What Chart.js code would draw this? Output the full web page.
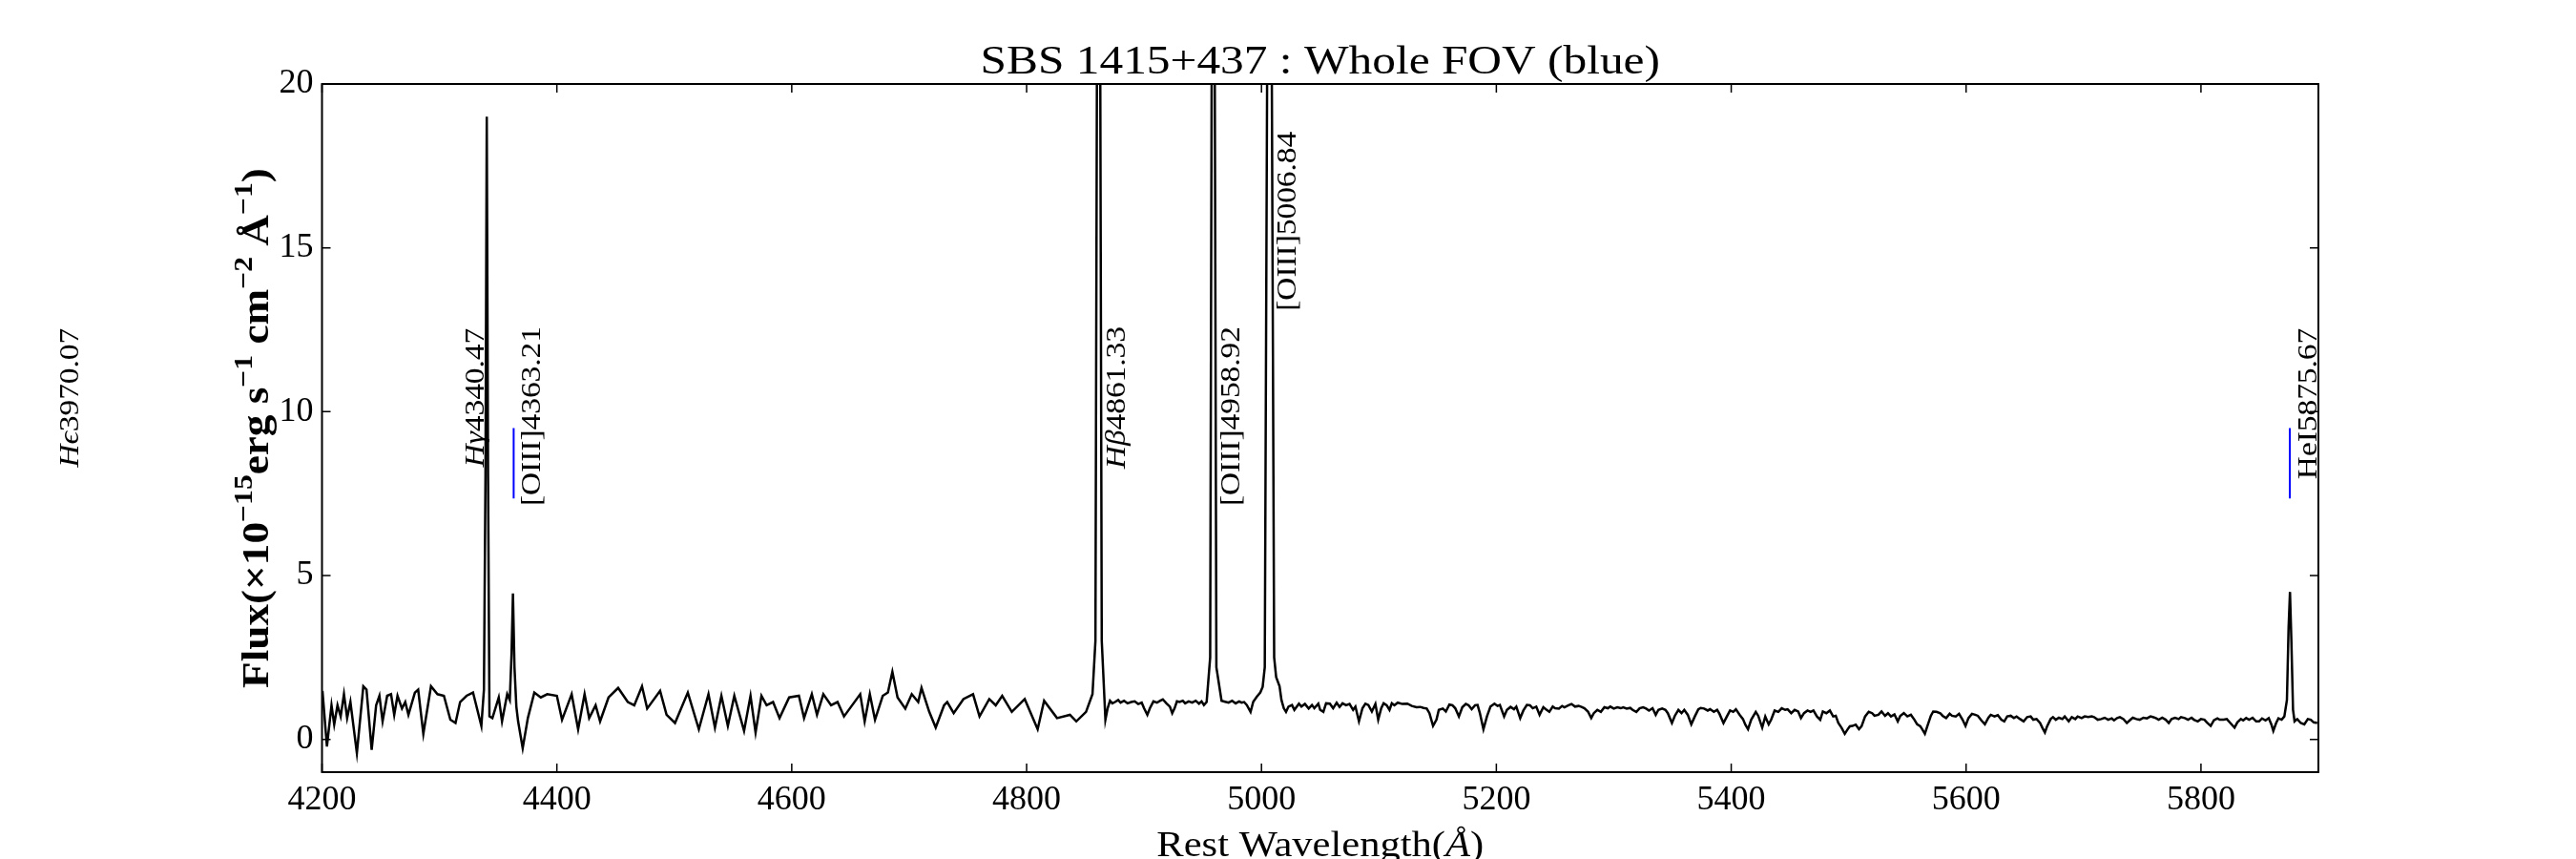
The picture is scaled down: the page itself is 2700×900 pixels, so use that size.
<!DOCTYPE html>
<html lang="en">
<head>
<meta charset="UTF-8">
<title>SBS 1415+437 : Whole FOV (blue)</title>
<script src="https://cdn.jsdelivr.net/npm/chart.js@4.4.1/dist/chart.umd.min.js"></script>
<style>
    body { margin: 0; background: #ffffff; }
    #wrap { width: 2700px; height: 900px; }
</style>
</head>
<body>
<div id="wrap"><canvas id="spec" width="2700" height="900"></canvas></div>
<script>
    // rest wavelength (A) and flux (1e-15 erg/s/cm2/A)
    // blue half: 4200 - 5050
    var waveA = [
        4200.4, 4204.2, 4208.1, 4210.4, 4213.2, 4215.9, 4218.7, 4221.4, 4224.2, 4229.7,
        4235.2, 4237.9, 4242.3, 4246.1, 4248.9, 4251.6, 4255.5, 4258.8, 4261.5, 4264.3,
        4268.1, 4270.9, 4273.6, 4279.1, 4281.9, 4286.3, 4292.8, 4298.3, 4303.8, 4309.3,
        4313.7, 4317.6, 4323.1, 4328.6, 4335.7, 4337.9, 4339.2, 4340.3, 4341.4, 4342.6,
        4345.1, 4350.5, 4353.3, 4357.7, 4359.9, 4361.4, 4362.6, 4363.9, 4365.5, 4367.0,
        4370.9, 4375.3, 4380.8, 4386.3, 4391.8, 4400.0, 4404.4, 4412.6, 4418.1, 4423.6,
        4427.5, 4433.0, 4436.8, 4444.0, 4452.2, 4460.4, 4465.9, 4472.5, 4476.9, 4487.9,
        4493.4, 4500.6, 4511.5, 4520.9, 4529.1, 4534.6, 4540.1, 4545.6, 4551.1, 4559.4,
        4564.9, 4569.2, 4574.2, 4578.6, 4584.1, 4589.6, 4597.8, 4606.1, 4610.5, 4617.1,
        4621.5, 4626.9, 4633.5, 4639.0, 4644.5, 4658.3, 4662.1, 4666.5, 4670.9, 4677.5,
        4681.9, 4685.7, 4690.1, 4696.7, 4702.2, 4707.7, 4710.5, 4717.1, 4722.6, 4729.7,
        4732.4, 4737.9, 4746.2, 4754.4, 4759.9, 4768.2, 4773.7, 4779.2, 4787.4, 4798.4,
        4809.4, 4814.9, 4825.9, 4836.9, 4842.3, 4850.6, 4856.1, 4858.6, 4860.0, 4861.3,
        4862.6, 4864.0, 4867.1, 4869.0, 4871.0, 4873.0, 4875.3, 4878.0, 4880.0, 4883.0,
        4886.0, 4889.1, 4892.0, 4895.0, 4898.0, 4900.0, 4902.8, 4905.0, 4908.0, 4911.0,
        4913.8, 4916.0, 4919.0, 4922.0, 4924.0, 4926.0, 4928.0, 4930.3, 4933.0, 4935.0,
        4938.0, 4941.0, 4944.0, 4946.8, 4949.0, 4951.0, 4953.3, 4956.3, 4957.7, 4958.9,
        4960.1, 4961.6, 4966.0, 4969.0, 4972.0, 4975.0, 4978.0, 4981.0, 4983.0, 4985.2,
        4987.5, 4990.7, 4993.0, 4996.0, 4999.0, 5001.0, 5002.8, 5005.0, 5006.8, 5008.6,
        5010.8, 5012.5, 5015.4, 5017.0, 5019.0, 5020.9, 5023.0, 5026.0, 5028.0, 5031.9,
        5034.0, 5037.0, 5040.2, 5043.0, 5045.0, 5048.4
    ];
    var fluxA = [
        1.48, -0.22, 1.04, 0.46, 1.04, 0.70, 1.38, 0.65, 1.14, -0.42,
        1.62, 1.52, -0.32, 1.04, 1.33, 0.55, 1.33, 1.38, 0.75, 1.33,
        0.94, 1.14, 0.75, 1.43, 1.52, 0.17, 1.62, 1.38, 1.33, 0.60,
        0.50, 1.14, 1.33, 1.43, 0.41, 1.52, 8.0, 19.0, 8.0, 0.70,
        0.65, 1.28, 0.55, 1.38, 1.20, 2.6, 4.45, 2.2, 1.0, 0.55,
        -0.27, 0.65, 1.43, 1.28, 1.38, 1.33, 0.60, 1.38, 0.31, 1.38,
        0.65, 1.04, 0.55, 1.28, 1.57, 1.14, 1.04, 1.62, 0.94, 1.48,
        0.75, 0.50, 1.43, 0.31, 1.38, 0.36, 1.33, 0.41, 1.33, 0.26,
        1.33, 0.21, 1.33, 1.04, 1.14, 0.65, 1.28, 1.33, 0.65, 1.38,
        0.75, 1.38, 1.04, 1.14, 0.70, 1.38, 0.55, 1.38, 0.60, 1.33,
        1.43, 2.06, 1.28, 0.94, 1.38, 1.14, 1.57, 0.84, 0.36, 1.04,
        1.14, 0.80, 1.23, 1.38, 0.70, 1.23, 1.04, 1.33, 0.84, 1.23,
        0.31, 1.18, 0.65, 0.75, 0.55, 0.84, 1.38, 3.0, 22, 40,
        22, 3.0, 0.60, 0.95, 1.18, 1.10, 1.14, 1.20, 1.12, 1.18,
        1.10, 1.14, 1.16, 1.08, 1.12, 0.95, 0.75, 0.95, 1.16, 1.12,
        1.18, 1.22, 1.10, 1.00, 0.80, 0.95, 1.16, 1.14, 1.18, 1.10,
        1.16, 1.12, 1.18, 1.09, 1.16, 1.05, 1.14, 2.5, 22, 40,
        22, 2.2, 1.18, 1.15, 1.12, 1.18, 1.10, 1.16, 1.12, 1.14,
        1.05, 0.84, 1.15, 1.30, 1.43, 1.60, 2.2, 22, 40, 22,
        2.5, 1.9, 1.62, 1.2, 0.95, 0.84, 1.00, 1.05, 0.90, 1.09,
        1.00, 1.08, 0.94, 1.05, 0.95, 1.09
    ];
    // red half: 5050 - 5900
    var waveB = [
        5050.0, 5052.7, 5055.0, 5058.2, 5061.0, 5064.0, 5066.5, 5069.0, 5072.0, 5075.0,
        5078.0, 5080.0, 5083.0, 5086.0, 5088.5, 5091.0, 5094.0, 5097.0, 5099.4, 5102.0,
        5104.0, 5106.6, 5109.0, 5111.0, 5113.2, 5116.0, 5120.0, 5124.2, 5128.0, 5132.0,
        5135.2, 5138.0, 5140.7, 5143.0, 5146.1, 5149.0, 5151.0, 5154.4, 5157.0, 5160.0,
        5162.6, 5165.0, 5168.1, 5171.0, 5174.0, 5176.4, 5179.0, 5181.9, 5184.0, 5186.0,
        5189.0, 5192.0, 5195.0, 5198.4, 5201.0, 5203.0, 5206.6, 5209.0, 5212.1, 5215.0,
        5217.0, 5220.3, 5223.0, 5226.0, 5228.6, 5231.0, 5234.0, 5236.8, 5240.0, 5242.0,
        5245.1, 5248.0, 5250.0, 5253.3, 5256.0, 5258.0, 5261.5, 5264.0, 5267.0, 5270.0,
        5272.5, 5275.0, 5278.0, 5280.8, 5283.0, 5286.0, 5289.0, 5292.0, 5295.0, 5297.0,
        5300.0, 5303.0, 5306.0, 5308.0, 5311.0, 5314.0, 5316.0, 5319.2, 5322.0, 5325.0,
        5327.5, 5330.0, 5333.0, 5335.7, 5338.0, 5341.2, 5344.0, 5346.0, 5349.5, 5352.0,
        5355.0, 5357.7, 5360.0, 5363.0, 5366.0, 5369.0, 5372.0, 5374.0, 5376.9, 5380.0,
        5382.0, 5385.2, 5388.0, 5390.0, 5393.4, 5396.0, 5399.0, 5401.7, 5404.0, 5407.2,
        5410.0, 5412.0, 5414.3, 5417.0, 5420.9, 5423.0, 5426.4, 5429.0, 5431.9, 5434.0,
        5437.0, 5440.1, 5443.0, 5446.0, 5448.0, 5451.1, 5454.0, 5457.0, 5459.4, 5462.0,
        5465.0, 5467.6, 5470.0, 5473.0, 5475.8, 5478.0, 5481.0, 5484.0, 5486.8, 5489.0,
        5491.2, 5494.0, 5496.7, 5499.0, 5501.0, 5503.3, 5506.0, 5508.8, 5511.0, 5514.0,
        5517.1, 5520.0, 5522.0, 5525.3, 5528.0, 5531.0, 5533.5, 5536.0, 5539.0, 5541.8,
        5544.0, 5547.0, 5550.0, 5553.0, 5556.0, 5558.3, 5561.0, 5562.8, 5564.9, 5567.0,
        5570.0, 5572.0, 5574.8, 5578.0, 5580.0, 5583.0, 5586.0, 5588.0, 5591.2, 5594.0,
        5597.0, 5599.5, 5602.0, 5605.0, 5607.7, 5610.0, 5613.0, 5616.0, 5619.0, 5621.0,
        5624.2, 5627.0, 5630.0, 5632.5, 5635.0, 5638.0, 5640.7, 5643.0, 5646.0, 5649.0,
        5652.0, 5655.0, 5657.2, 5660.0, 5663.0, 5665.0, 5667.1, 5669.0, 5672.0, 5674.0,
        5676.4, 5679.0, 5682.0, 5684.0, 5687.4, 5690.0, 5693.0, 5695.0, 5698.4, 5701.0,
        5704.0, 5707.0, 5709.0, 5712.1, 5715.0, 5718.0, 5721.0, 5724.0, 5726.0, 5728.6,
        5731.0, 5734.0, 5736.9, 5740.0, 5742.0, 5745.0, 5747.9, 5751.0, 5754.0, 5757.0,
        5759.0, 5761.6, 5764.0, 5767.0, 5770.0, 5772.6, 5775.0, 5778.0, 5781.0, 5783.0,
        5786.3, 5789.0, 5792.0, 5794.0, 5797.3, 5800.0, 5803.0, 5805.0, 5808.3, 5811.0,
        5814.0, 5816.0, 5819.3, 5822.0, 5825.0, 5828.6, 5831.0, 5834.0, 5836.0, 5838.5,
        5841.0, 5844.0, 5847.0, 5849.5, 5852.0, 5855.0, 5857.7, 5860.0, 5861.6, 5864.0,
        5866.0, 5868.7, 5871.0, 5873.2, 5874.6, 5875.8, 5877.0, 5878.4, 5879.7, 5882.0,
        5885.0, 5888.0, 5891.0, 5893.5, 5896.0, 5899.0
    ];
    var fluxB = [
        0.90, 0.84, 1.10, 1.09, 0.95, 1.12, 0.99, 1.10, 1.04, 1.08,
        0.90, 1.00, 0.55, 0.95, 1.09, 1.05, 0.85, 1.08, 0.60, 0.95,
        1.10, 1.04, 0.90, 1.10, 1.04, 1.12, 1.08, 1.09, 1.02, 0.98,
        0.99, 0.96, 0.94, 0.80, 0.41, 0.60, 0.90, 0.94, 0.85, 1.06,
        1.04, 0.95, 0.70, 0.98, 1.08, 1.04, 0.92, 1.04, 1.05, 0.80,
        0.31, 0.70, 1.00, 1.09, 1.02, 1.05, 0.70, 0.90, 0.99, 0.92,
        1.00, 0.65, 0.88, 1.05, 1.04, 0.95, 1.00, 0.75, 0.98, 0.92,
        0.84, 1.00, 0.95, 0.94, 1.02, 0.98, 1.04, 1.08, 1.00, 1.02,
        0.99, 0.95, 0.85, 0.65, 0.80, 0.90, 0.84, 0.98, 0.95, 1.00,
        0.94, 0.98, 0.95, 0.98, 0.94, 0.96, 0.90, 0.84, 0.95, 0.98,
        0.94, 0.88, 0.95, 0.75, 0.90, 0.94, 0.90, 0.80, 0.50, 0.72,
        0.90, 0.80, 0.90, 0.75, 0.46, 0.70, 0.92, 0.96, 0.94, 0.88,
        0.92, 0.84, 0.90, 0.78, 0.50, 0.68, 0.88, 0.84, 0.92, 0.75,
        0.62, 0.45, 0.31, 0.60, 0.84, 0.72, 0.36, 0.70, 0.46, 0.60,
        0.88, 0.84, 0.95, 0.90, 0.92, 0.80, 0.90, 0.85, 0.65, 0.80,
        0.88, 0.84, 0.88, 0.70, 0.60, 0.85, 0.80, 0.88, 0.70, 0.72,
        0.50, 0.35, 0.17, 0.30, 0.40, 0.41, 0.45, 0.31, 0.40, 0.70,
        0.84, 0.80, 0.72, 0.75, 0.85, 0.72, 0.80, 0.70, 0.76, 0.55,
        0.72, 0.80, 0.70, 0.75, 0.60, 0.46, 0.40, 0.30, 0.17, 0.40,
        0.72, 0.85, 0.84, 0.80, 0.72, 0.65, 0.78, 0.72, 0.70, 0.78,
        0.60, 0.41, 0.65, 0.78, 0.75, 0.72, 0.58, 0.46, 0.66, 0.75,
        0.70, 0.74, 0.60, 0.55, 0.70, 0.72, 0.65, 0.70, 0.62, 0.55,
        0.68, 0.70, 0.60, 0.62, 0.50, 0.35, 0.21, 0.40, 0.62, 0.68,
        0.60, 0.66, 0.62, 0.70, 0.55, 0.68, 0.62, 0.70, 0.65, 0.70,
        0.68, 0.70, 0.68, 0.60, 0.62, 0.66, 0.60, 0.64, 0.58, 0.65,
        0.68, 0.62, 0.50, 0.60, 0.66, 0.62, 0.60, 0.66, 0.64, 0.70,
        0.68, 0.65, 0.60, 0.66, 0.60, 0.50, 0.62, 0.66, 0.62, 0.68,
        0.65, 0.60, 0.66, 0.60, 0.55, 0.62, 0.60, 0.52, 0.41, 0.58,
        0.64, 0.60, 0.60, 0.62, 0.50, 0.36, 0.52, 0.62, 0.58, 0.65,
        0.60, 0.66, 0.55, 0.55, 0.64, 0.58, 0.65, 0.45, 0.26, 0.50,
        0.64, 0.60, 0.70, 1.2, 3.4, 4.5, 3.0, 0.9, 0.55, 0.62,
        0.50, 0.46, 0.62, 0.60, 0.52, 0.50
    ];

    var xTicks = [4200, 4400, 4600, 4800, 5000, 5200, 5400, 5600, 5800];
    var yTicks = [0, 5, 10, 15, 20];

    // identified lines
    var lineIons = ['H\u03f5', 'H\u03b3', '[OIII]', 'H\u03b2', '[OIII]', '[OIII]', 'HeI'];
    var lineWaves = [3970.07, 4340.47, 4363.21, 4861.33, 4958.92, 5006.84, 5875.67];
    var ionItalic = [true, true, false, true, false, false, false];
    var labelTop = [12.55, 12.55, 12.6, 12.6, 12.6, 18.55, 12.55];
    var labelShift = [28, -3.5, 28, 27.5, 27.5, 27.5, 28];   // px, baseline offset from the line
    var markerWaves = [4363.21, 5875.67];
    var markerRange = [7.35, 9.5];

    var serif = '"Liberation Serif", "DejaVu Serif", serif';

    // draws a run of text pieces [text, isSup, isItalic] starting at x=0 of the current frame,
    // stretched by sx along the text direction; align: 'center' | 'right' | 'left'
    function drawParts(ctx, parts, size, bold, sx, align) {
        var fonts = parts.map(function(p) {
            var s = p[1] ? size * 0.7 : size;
            return (p[2] ? 'italic ' : '') + (bold ? 'bold ' : '') + s + 'px ' + serif;
        });
        var w = 0;
        parts.forEach(function(p, i) { ctx.font = fonts[i]; w += ctx.measureText(p[0]).width; });
        ctx.save();
        ctx.scale(sx, 1);
        var cx = align === 'center' ? -w / 2 : (align === 'right' ? -w : 0);
        ctx.textAlign = 'left';
        ctx.textBaseline = 'alphabetic';
        parts.forEach(function(p, i) {
            ctx.font = fonts[i];
            ctx.fillText(p[0], cx, p[1] ? -size * 0.42 : 0);
            cx += ctx.measureText(p[0]).width;
        });
        ctx.restore();
    }

    var decor = {
        id: 'decor',
        afterDraw: function(chart) {
            var ctx = chart.ctx, a = chart.chartArea;
            var xs = chart.scales.x, ys = chart.scales.y;
            ctx.save();
            ctx.strokeStyle = '#000';
            ctx.fillStyle = '#000';

            // frame and inward ticks on all four sides
            ctx.lineWidth = 2;
            ctx.strokeRect(a.left, a.top, a.right - a.left, a.bottom - a.top);
            ctx.lineWidth = 1.5;
            ctx.beginPath();
            xTicks.forEach(function(v) {
                var px = xs.getPixelForValue(v);
                ctx.moveTo(px, a.bottom); ctx.lineTo(px, a.bottom - 9);
                ctx.moveTo(px, a.top); ctx.lineTo(px, a.top + 9);
            });
            yTicks.forEach(function(v) {
                var py = ys.getPixelForValue(v);
                ctx.moveTo(a.left, py); ctx.lineTo(a.left + 9, py);
                ctx.moveTo(a.right, py); ctx.lineTo(a.right - 9, py);
            });
            ctx.stroke();

            // blue markers
            ctx.strokeStyle = '#0000ff';
            ctx.lineWidth = 2;
            ctx.beginPath();
            markerWaves.forEach(function(w) {
                var px = xs.getPixelForValue(w);
                ctx.moveTo(px, ys.getPixelForValue(markerRange[0]));
                ctx.lineTo(px, ys.getPixelForValue(markerRange[1]));
            });
            ctx.stroke();

            // line identifications, rotated to read upwards
            lineWaves.forEach(function(w, i) {
                ctx.save();
                ctx.translate(xs.getPixelForValue(w) + labelShift[i], ys.getPixelForValue(labelTop[i]));
                ctx.rotate(-Math.PI / 2);
                drawParts(ctx, [[lineIons[i], false, ionItalic[i]], [w.toFixed(2), false, false]],
                    29, false, 1.15, 'right');
                ctx.restore();
            });

            // title
            ctx.save();
            ctx.translate((a.left + a.right) / 2, 77);
            drawParts(ctx, [['SBS 1415+437 : Whole FOV (blue)', false, false]], 42, false, 1.176, 'center');
            ctx.restore();

            // x axis title
            ctx.save();
            ctx.translate((a.left + a.right) / 2, 897);
            drawParts(ctx, [['Rest Wavelength(', false, false], ['\u00c5', false, true], [')', false, false]],
                38, false, 1.12, 'center');
            ctx.restore();

            // y axis title
            ctx.save();
            ctx.translate(281, (a.top + a.bottom) / 2);
            ctx.rotate(-Math.PI / 2);
            drawParts(ctx, [
                ['Flux(\u00d710', false, false], ['\u221215', true, false],
                ['erg s', false, false], ['\u22121', true, false],
                [' cm', false, false], ['\u22122', true, false],
                [' \u00c5', false, false], ['\u22121', true, false],
                [')', false, false]
            ], 40, true, 1.13, 'center');
            ctx.restore();

            ctx.restore();
        }
    };

    var wave = waveA.concat(waveB);
    var flux = fluxA.concat(fluxB);
    var points = wave.map(function(w, i) { return {x: w, y: flux[i]}; });

    new Chart(document.getElementById('spec'), {
        type: 'line',
        data: {
            datasets: [{
                data: points,
                borderColor: '#000000',
                borderWidth: 2.5,
                pointRadius: 0,
                tension: 0,
                fill: false
            }]
        },
        options: {
            responsive: false,
            animation: false,
            events: [],
            layout: { padding: { top: 88, right: 270, left: 0, bottom: 0 } },
            plugins: { legend: { display: false }, tooltip: { enabled: false } },
            scales: {
                x: {
                    type: 'linear',
                    min: 4200,
                    max: 5900,
                    grid: { display: false, drawTicks: false },
                    border: { display: false },
                    afterBuildTicks: function(s) { s.ticks = xTicks.map(function(v) { return {value: v}; }); },
                    afterFit: function(s) { s.height = 91; },
                    ticks: {
                        color: '#000',
                        padding: 8,
                        maxRotation: 0,
                        font: { family: serif, size: 36 },
                        callback: function(v) { return String(v); }
                    }
                },
                y: {
                    min: -1,
                    max: 20,
                    grid: { display: false, drawTicks: false },
                    border: { display: false },
                    afterBuildTicks: function(s) { s.ticks = yTicks.map(function(v) { return {value: v}; }); },
                    afterFit: function(s) { s.width = 337.5; },
                    ticks: {
                        color: '#000',
                        padding: 9,
                        font: { family: serif, size: 36 },
                        callback: function(v) { return String(v); }
                    }
                }
            }
        },
        plugins: [decor]
    });
</script>
</body>
</html>
